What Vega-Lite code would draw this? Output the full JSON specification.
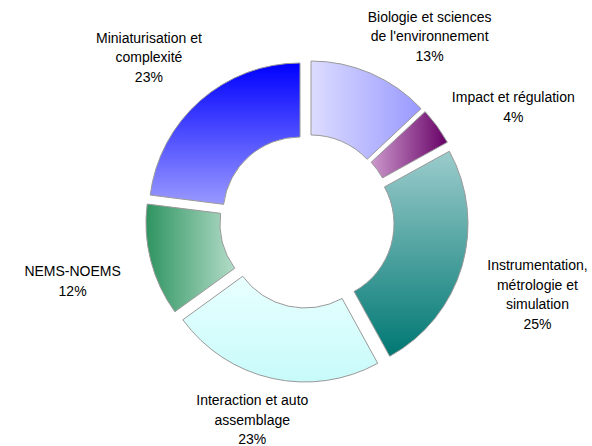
{
  "$schema": "https://vega.github.io/schema/vega-lite/v6.json",
  "autosize": {"type": "none"},
  "width": 570,
  "height": 442,
  "padding": {"left": 22, "top": 0, "right": 0, "bottom": 4},
  "background": "white",
  "config": {"view": {"stroke": null}, "text": {"font": "Liberation Sans", "fontSize": 14, "lineHeight": 19.5, "fill": "#000000"}},
  "data": {"values": [
    {"order": 1, "name": "Biologie et sciences\nde l'environnement", "pct": 13},
    {"order": 2, "name": "Impact et régulation", "pct": 4},
    {"order": 3, "name": "Instrumentation,\nmétrologie et\nsimulation", "pct": 25},
    {"order": 4, "name": "Interaction et auto\nassemblage", "pct": 23},
    {"order": 5, "name": "NEMS-NOEMS", "pct": 12},
    {"order": 6, "name": "Miniaturisation et\ncomplexité", "pct": 23}
  ]},
  "transform": [
    {"stack": "pct", "groupby": [], "sort": [{"field": "order", "order": "ascending"}], "as": ["start", "end"]},
    {"calculate": "(datum.start + datum.end) / 2", "as": "mid"},
    {"calculate": "datum.name + '\\n' + datum.pct + '%'", "as": "label"}
  ],
  "encoding": {
    "theta": {"field": "start", "type": "quantitative", "scale": {"domain": [0, 100]}}
  },
  "layer": [
    {
      "transform": [{"filter": "datum.order == 1"}],
      "mark": {"type": "arc", "outerRadius": 151, "innerRadius": 77, "xOffset": 4, "yOffset": -9, "stroke": "#999999", "strokeWidth": 1,
        "fill": {"gradient": "linear", "x1": 0, "y1": 0, "x2": 1, "y2": 0, "stops": [{"offset": 0, "color": "#dcdcff"}, {"offset": 1, "color": "#9999ff"}]}},
      "encoding": {"theta2": {"field": "end"}}
    },
    {
      "transform": [{"filter": "datum.order == 2"}],
      "mark": {"type": "arc", "outerRadius": 151, "innerRadius": 77, "xOffset": 8, "yOffset": -6, "stroke": "#999999", "strokeWidth": 1,
        "fill": {"gradient": "linear", "x1": 0, "y1": 0, "x2": 1, "y2": 0, "stops": [{"offset": 0, "color": "#cc99cc"}, {"offset": 1, "color": "#660066"}]}},
      "encoding": {"theta2": {"field": "end"}}
    },
    {
      "transform": [{"filter": "datum.order == 3"}],
      "mark": {"type": "arc", "outerRadius": 151, "innerRadius": 77, "xOffset": 10, "yOffset": 3, "stroke": "#999999", "strokeWidth": 1,
        "fill": {"gradient": "linear", "x1": 0, "y1": 0, "x2": 0, "y2": 1, "stops": [{"offset": 0, "color": "#9ccccc"}, {"offset": 1, "color": "#007873"}]}},
      "encoding": {"theta2": {"field": "end"}}
    },
    {
      "transform": [{"filter": "datum.order == 4"}],
      "mark": {"type": "arc", "outerRadius": 151, "innerRadius": 77, "xOffset": -2, "yOffset": 10, "stroke": "#999999", "strokeWidth": 1,
        "fill": {"gradient": "linear", "x1": 0, "y1": 0, "x2": 0, "y2": 1, "stops": [{"offset": 0, "color": "#e8ffff"}, {"offset": 1, "color": "#c8fafa"}]}},
      "encoding": {"theta2": {"field": "end"}}
    },
    {
      "transform": [{"filter": "datum.order == 5"}],
      "mark": {"type": "arc", "outerRadius": 151, "innerRadius": 77, "xOffset": -10, "yOffset": 2, "stroke": "#999999", "strokeWidth": 1,
        "fill": {"gradient": "linear", "x1": 0, "y1": 0, "x2": 1, "y2": 0, "stops": [{"offset": 0, "color": "#2e9460"}, {"offset": 1, "color": "#b3dcc8"}]}},
      "encoding": {"theta2": {"field": "end"}}
    },
    {
      "transform": [{"filter": "datum.order == 6"}],
      "mark": {"type": "arc", "outerRadius": 151, "innerRadius": 77, "xOffset": -7, "yOffset": -7, "stroke": "#999999", "strokeWidth": 1,
        "fill": {"gradient": "linear", "x1": 0, "y1": 0, "x2": 0, "y2": 1, "stops": [{"offset": 0, "color": "#0000ff"}, {"offset": 1, "color": "#9999ff"}]}},
      "encoding": {"theta2": {"field": "end"}}
    },
    {
      "transform": [{"filter": "datum.order == 1"}],
      "mark": {"type": "text", "align": "center", "baseline": "middle", "lineBreak": "\n", "dx": 36, "dy": -3},
      "encoding": {"theta": {"field": "mid", "type": "quantitative", "scale": {"domain": [0, 100]}}, "radius": {"value": 218}, "text": {"field": "label"}}
    },
    {
      "transform": [{"filter": "datum.order == 2"}],
      "mark": {"type": "text", "align": "center", "baseline": "middle", "lineBreak": "\n", "dx": 17, "dy": 15},
      "encoding": {"theta": {"field": "mid", "type": "quantitative", "scale": {"domain": [0, 100]}}, "radius": {"value": 234}, "text": {"field": "label"}}
    },
    {
      "transform": [{"filter": "datum.order == 3"}],
      "mark": {"type": "text", "align": "center", "baseline": "middle", "lineBreak": "\n", "dx": -1, "dy": -22},
      "encoding": {"theta": {"field": "mid", "type": "quantitative", "scale": {"domain": [0, 100]}}, "radius": {"value": 241}, "text": {"field": "label"}}
    },
    {
      "transform": [{"filter": "datum.order == 4"}],
      "mark": {"type": "text", "align": "center", "baseline": "middle", "lineBreak": "\n", "dx": -10, "dy": -20},
      "encoding": {"theta": {"field": "mid", "type": "quantitative", "scale": {"domain": [0, 100]}}, "radius": {"value": 205}, "text": {"field": "label"}}
    },
    {
      "transform": [{"filter": "datum.order == 5"}],
      "mark": {"type": "text", "align": "center", "baseline": "middle", "lineBreak": "\n", "dx": 0, "dy": -9},
      "encoding": {"theta": {"field": "mid", "type": "quantitative", "scale": {"domain": [0, 100]}}, "radius": {"value": 242}, "text": {"field": "label"}}
    },
    {
      "transform": [{"filter": "datum.order == 6"}],
      "mark": {"type": "text", "align": "center", "baseline": "middle", "lineBreak": "\n", "dx": -8, "dy": -12},
      "encoding": {"theta": {"field": "mid", "type": "quantitative", "scale": {"domain": [0, 100]}}, "radius": {"value": 227}, "text": {"field": "label"}}
    }
  ]
}
